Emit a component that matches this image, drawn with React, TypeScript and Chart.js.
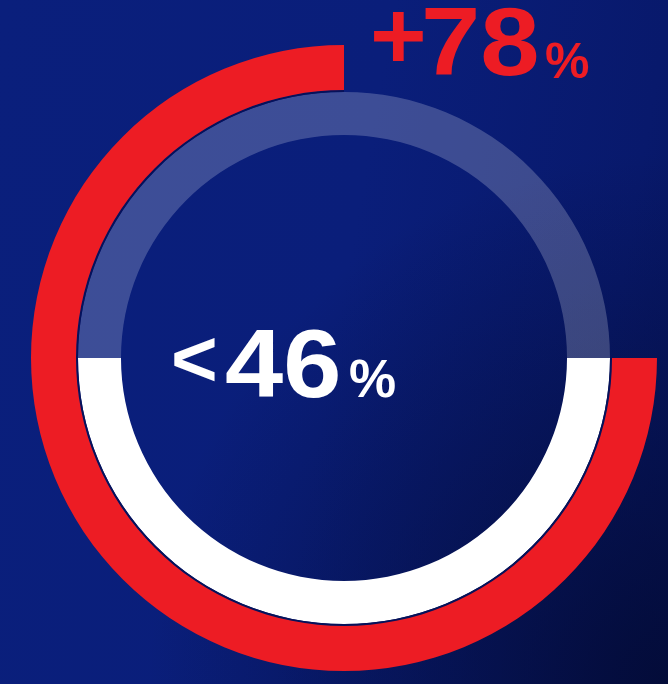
import React, { useEffect, useRef } from "react";
import { Chart, registerables } from "chart.js";

Chart.register(...registerables);

// ---- data ----
const segmentLabels = ["Filled", "Remainder"];
const outerValues = [75, 25]; // red ring share of the circle
const innerValues = [50, 50]; // white / translucent halves
const outerLabel = { sign: "+", value: "78", unit: "%" };
const innerLabel = { sign: "<", value: "46", unit: "%" };

const RED = "#ed1c24";
const FONT = "'Liberation Sans', Arial, Helvetica, sans-serif";

// places text so that its baseline is at y and its origin at x (line-height 1)
function T(props: {
  x: number;
  y: number;
  size: number;
  color: string;
  sx?: number;
  children: React.ReactNode;
}) {
  const top = props.y - 0.8465 * props.size;
  return (
    <span
      style={{
        position: "absolute",
        left: props.x,
        top,
        fontFamily: FONT,
        fontWeight: 700,
        fontSize: props.size,
        lineHeight: 1,
        color: props.color,
        whiteSpace: "nowrap",
        transform: `scaleX(${props.sx ?? 1})`,
        transformOrigin: "left top",
      }}
    >
      {props.children}
    </span>
  );
}

export default function App() {
  const ref = useRef<HTMLCanvasElement | null>(null);

  useEffect(() => {
    document.body.style.margin = "0";
    const canvas = ref.current;
    if (!canvas) return;
    const chart = new Chart(canvas, {
      type: "doughnut",
      data: {
        labels: segmentLabels,
        datasets: [
          {
            data: outerValues,
            backgroundColor: [RED, "rgba(0,0,0,0)"],
            borderWidth: 0,
            weight: 45,
          },
          {
            data: outerValues,
            backgroundColor: ["#06125a", "rgba(0,0,0,0)"],
            borderWidth: 0,
            weight: 2,
          },
          {
            data: innerValues,
            backgroundColor: ["#ffffff", "rgba(255,255,255,0.21)"],
            borderWidth: 0,
            weight: 43,
          },
        ],
      },
      options: {
        responsive: false,
        animation: false,
        devicePixelRatio: 1,
        rotation: 90,
        cutout: "71.25%",
        layout: { padding: { left: 31, right: 11, top: 45, bottom: 13 } },
        plugins: {
          legend: { display: false },
          tooltip: { enabled: false },
        },
        events: [],
      },
    });
    return () => chart.destroy();
  }, []);

  return (
    <div
      style={{
        position: "fixed",
        left: 0,
        top: 0,
        width: 668,
        height: 684,
        overflow: "hidden",
        background:
          "radial-gradient(ellipse at 100% 100%, rgba(3,10,50,0.85) 0%, rgba(3,10,50,0.45) 25%, rgba(3,10,50,0) 55%), linear-gradient(100deg, #0a1f7c 0%, #0a1e7a 50%, #08196c 85%, #061560 100%)",
      }}
    >
      <canvas
        ref={ref}
        width={668}
        height={684}
        style={{ position: "absolute", left: 0, top: 0, width: 668, height: 684 }}
      />
      <T x={370} y={69} size={97} color={RED}>{outerLabel.sign}</T>
      <T x={421} y={75} size={97} color={RED} sx={1.1}>{outerLabel.value}</T>
      <T x={545} y={78} size={50} color={RED}>{outerLabel.unit}</T>
      <T x={171} y={387} size={80} color="#ffffff">{innerLabel.sign}</T>
      <T x={225} y={397} size={96} color="#ffffff" sx={1.09}>{innerLabel.value}</T>
      <T x={349} y={397} size={53} color="#ffffff">{innerLabel.unit}</T>
    </div>
  );
}
